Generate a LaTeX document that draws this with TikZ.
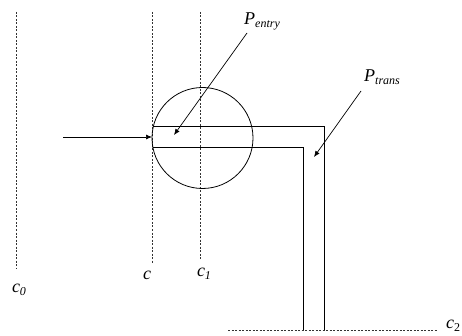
\documentclass[tikz,border=0pt]{standalone}
\usepackage{fontspec}
\setmainfont{Liberation Serif}
\usetikzlibrary{arrows.meta}
\begin{document}
\begin{tikzpicture}[x=1pt,y=-1pt,
  guide/.style={draw=black!80,line width=0.5pt,dash pattern=on 2pt off 1.5pt},
  solid line/.style={draw=black,line width=0.8pt},
  pointer/.style={draw=black,line width=0.7pt,-{Latex[length=6pt,width=5pt]}},
  lbl/.style={inner sep=0pt,font=\fontsize{18}{18}\selectfont\itshape}]
\useasboundingbox (0,0) rectangle (462,336);
% guide lines
\coordinate (c0t) at (16,12); \coordinate (c0b) at (16,268);
\coordinate (ct) at (152,12); \coordinate (cb) at (152,263);
\coordinate (c1t) at (200,12); \coordinate (c1b) at (200,260);
\coordinate (c2l) at (228,330); \coordinate (c2r) at (437,330);
\draw[guide] (c0t) -- (c0b);
\draw[guide] (ct) -- (cb);
\draw[guide] (c1t) -- (c1b);
\draw[guide] (c2l) -- (c2r);
% circle
\node[solid line,circle,minimum size=101pt,inner sep=0pt] (circ) at (202.5,138) {};
% pipe
\coordinate (ptl) at (152.7,126.7);
\coordinate (pbl) at (152.7,147.7);
\coordinate (pto) at (324,126.7);
\coordinate (pti) at (303,147.7);
\coordinate (pbo) at (324,330);
\coordinate (pbi) at (303,330);
\draw[solid line] (ptl) -- (pto) -- (pbo);
\draw[solid line] (pbl) -- (pti) -- (pbi);
% incoming arrow
\coordinate (inS) at (63,137);
\coordinate (inE) at (152,137);
\draw[pointer] (inS) -- (inE);
% labels
\node[lbl] (c0) at (19,290) {c\raisebox{-3pt}{\fontsize{12}{12}\selectfont 0}};
\node[lbl] (c) at (147,275) {c};
\node[lbl] (c1) at (204,274) {c\raisebox{-3pt}{\fontsize{12}{12}\selectfont 1}};
\node[lbl] (c2) at (453,326) {c\raisebox{-3pt}{\fontsize{12}{12}\selectfont\upshape 2}};
\node[lbl] (pentry) at (262,21) {P\raisebox{-3pt}{\fontsize{12}{12}\selectfont entry}};
\node[lbl] (ptrans) at (382,77) {P\raisebox{-3pt}{\fontsize{12}{12}\selectfont trans}};
\coordinate (pentryS) at (247,33);
\coordinate (pentryT) at (174,135);
\coordinate (ptransS) at (361,91);
\coordinate (ptransT) at (314,157);
\draw[pointer] (pentryS) -- (pentryT);
\draw[pointer] (ptransS) -- (ptransT);
\end{tikzpicture}
\end{document}
